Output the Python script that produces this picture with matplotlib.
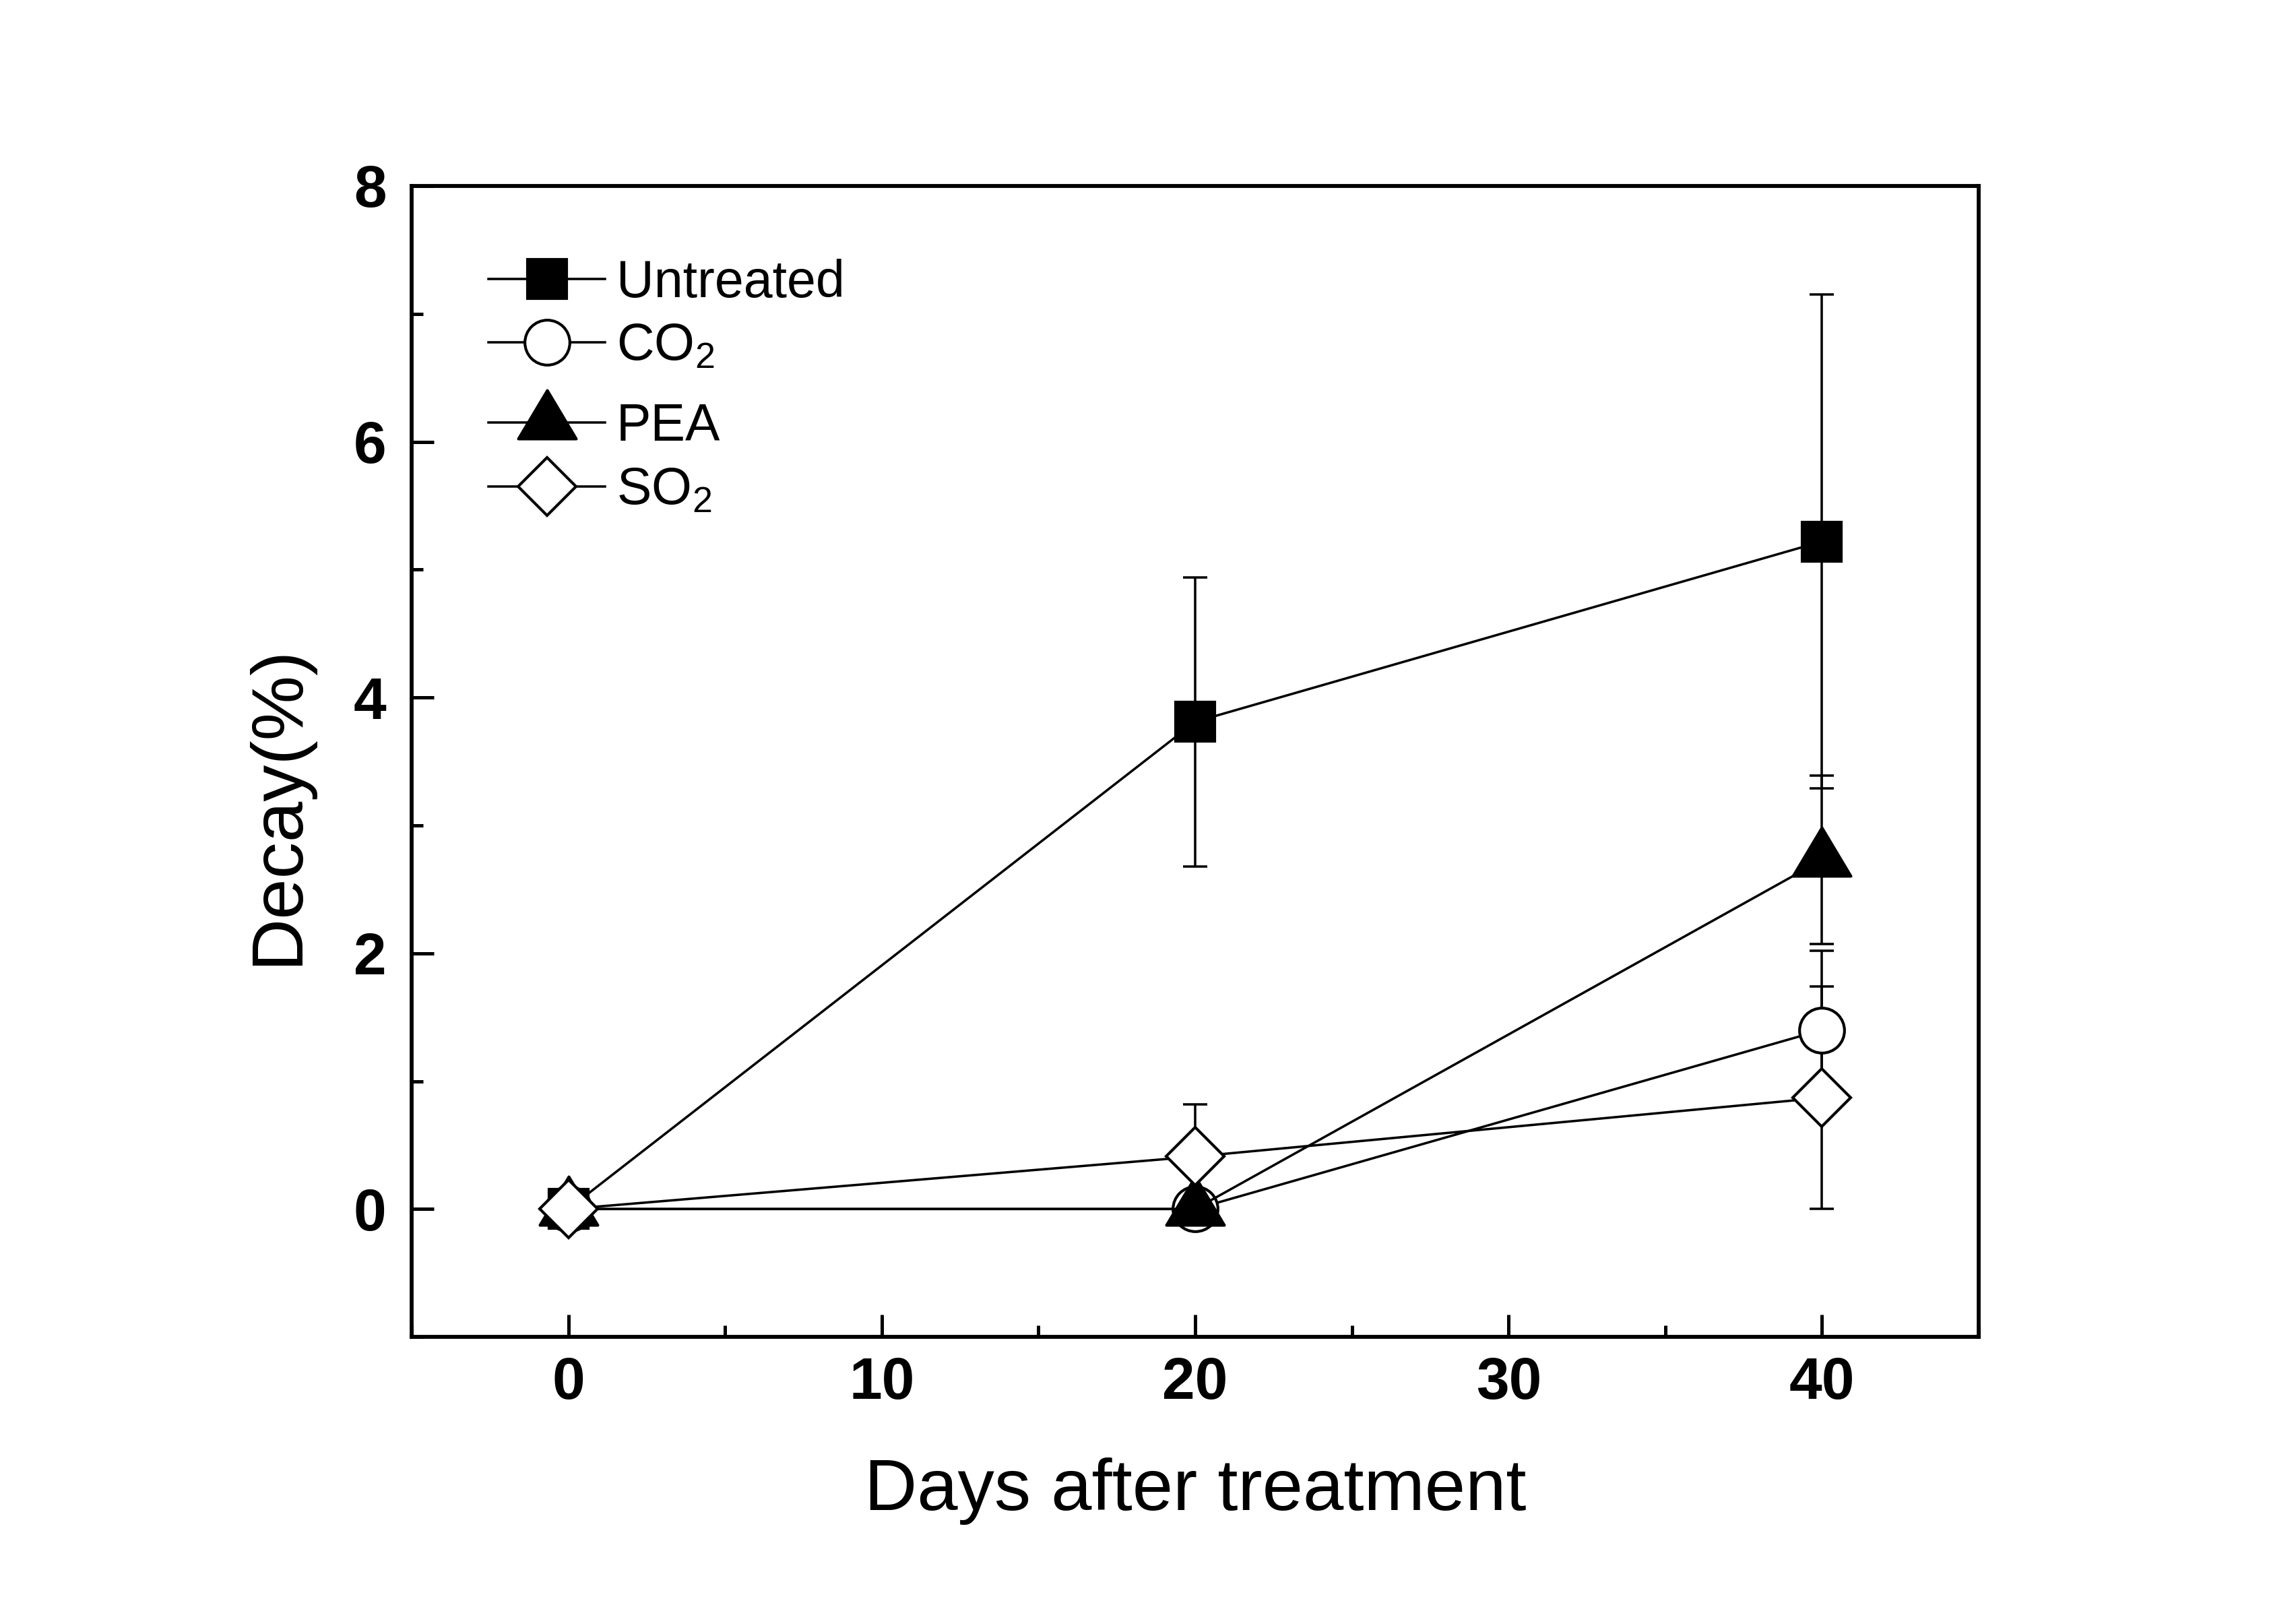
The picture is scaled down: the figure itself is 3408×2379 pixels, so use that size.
import matplotlib
matplotlib.use('Agg')
import matplotlib.pyplot as plt
from matplotlib.path import Path
from matplotlib.ticker import MultipleLocator

plt.rcParams['font.family'] = ['Liberation Sans', 'DejaVu Sans']
plt.rcParams['mathtext.fontset'] = 'custom'
plt.rcParams['mathtext.rm'] = 'Liberation Sans'
plt.rcParams['mathtext.default'] = 'regular'

# ---- data ----
days = [0, 20, 40]
series_labels = ['Untreated', r'CO$_2$', 'PEA', r'SO$_2$']
untreated = [0.0, 3.81, 5.22]
untreated_err = [0.0, 1.13, 1.93]
co2 = [0.0, 0.0, 1.40]
co2_err = [0.0, 0.0, 0.62]
pea = [0.0, 0.0, 2.73]
pea_err = [0.0, 0.0, 0.66]
so2 = [0.0, 0.41, 0.87]
so2_err = [0.0, 0.41, 0.87]
x_ticks = [0, 10, 20, 30, 40]
y_ticks = [0, 2, 4, 6, 8]

# triangle marker with centroid at the data point
tri = Path([(0, 48), (-43, -24), (43, -24), (0, 48)],
           [Path.MOVETO, Path.LINETO, Path.LINETO, Path.CLOSEPOLY])

fig = plt.figure(figsize=(11.36, 7.93), dpi=300)
ax = fig.add_axes([0.1793, 0.166, 0.6825, 0.718])

values = [untreated, co2, pea, so2]
errors = [untreated_err, co2_err, pea_err, so2_err]
styles = [
    dict(marker='s', ms=14, mfc='black'),
    dict(marker='o', ms=16, mfc='white'),
    dict(marker=tri, ms=23, mfc='black'),
    dict(marker='D', ms=14.5, mfc='white'),
]

for y, e in zip(values, errors):
    ax.errorbar(days, y, yerr=e, fmt='none', ecolor='black', elinewidth=0.85,
                capsize=4.3, capthick=0.85, zorder=1.5)

for i, (y, lab, st) in enumerate(zip(values, series_labels, styles)):
    ax.plot(days, y, color='black', lw=0.85, mec='black', mew=1.0,
            label=lab, zorder=2 + i, **st)

ax.set_xlim(-5, 45)
ax.set_ylim(-1, 8)
ax.set_xticks(x_ticks)
ax.set_yticks(y_ticks)
ax.xaxis.set_minor_locator(MultipleLocator(5))
ax.yaxis.set_minor_locator(MultipleLocator(1))

ax.tick_params(which='both', direction='in', top=False, right=False, width=1.2)
ax.tick_params(which='major', length=8, labelsize=21)
ax.tick_params(which='minor', length=4)
ax.tick_params(axis='x', which='major', pad=7)
ax.tick_params(axis='y', which='major', pad=9)
for t in ax.get_xticklabels() + ax.get_yticklabels():
    t.set_fontweight('bold')

for sp in ax.spines.values():
    sp.set_linewidth(1.4)

ax.set_xlabel('Days after treatment', fontsize=26, labelpad=16.5)
ax.set_ylabel('Decay(%)', fontsize=26)
ax.yaxis.set_label_coords(-0.0634, 0.4622)

handles, labels = ax.get_legend_handles_labels()
leg_kw = dict(loc='upper left', frameon=False, fontsize=18.5, handlelength=2.25,
              handletextpad=0.21, labelspacing=0.28, borderpad=0,
              borderaxespad=0, numpoints=1)
leg1 = ax.legend(handles[:2], labels[:2], bbox_to_anchor=(0.049, 0.937), **leg_kw)
ax.add_artist(leg1)
ax.legend(handles[2:], labels[2:], bbox_to_anchor=(0.049, 0.812), **leg_kw)

fig.savefig('out.png', dpi=300)
